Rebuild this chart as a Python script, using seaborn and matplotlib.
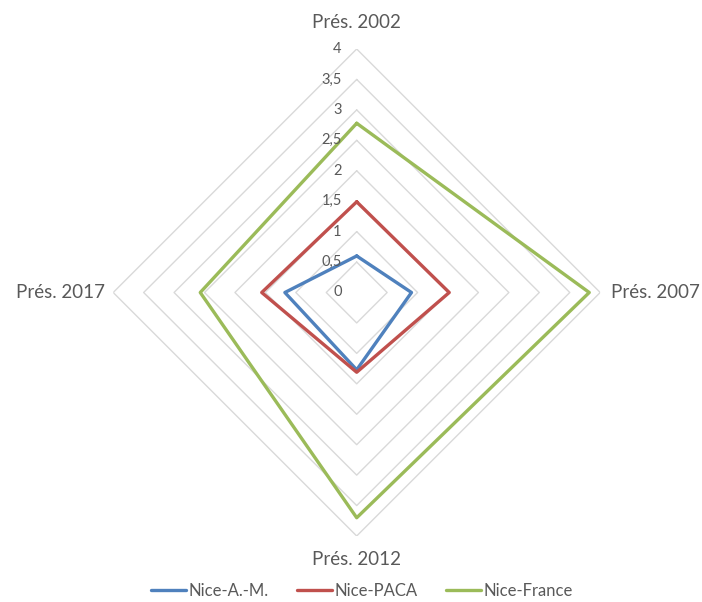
import numpy as np
import pandas as pd
import matplotlib
matplotlib.use("Agg")
import matplotlib.pyplot as plt
import seaborn as sns
from matplotlib.lines import Line2D

categories = ["Prés. 2002", "Prés. 2007", "Prés. 2012", "Prés. 2017"]
nice_am = [0.60, 0.90, 1.27, 1.18]
nice_paca = [1.49, 1.52, 1.31, 1.56]
nice_france = [2.78, 3.82, 3.70, 2.57]
series_names = ["Nice-A.-M.", "Nice-PACA", "Nice-France"]
tick_values = [0, 0.5, 1, 1.5, 2, 2.5, 3, 3.5, 4]
tick_labels = ["0", "0,5", "1", "1,5", "2", "2,5", "3", "3,5", "4"]
colors = ["#4F81BD", "#C0504D", "#9BBB59"]

sns.set_theme(style="white")
plt.rcParams["font.family"] = ["Lato", "DejaVu Sans"]

W, H = 702, 602
fig = plt.figure(figsize=(W / 100, H / 100), dpi=100)
cx, cy, R = 356.7, 292.5, 243.5
ax = fig.add_axes([(cx - R) / W, (H - cy - R) / H, 2 * R / W, 2 * R / H], projection="polar")
ax.set_theta_offset(np.pi / 2)
ax.set_theta_direction(-1)
ax.set_ylim(0, 4)
ax.grid(False)
ax.spines["polar"].set_visible(False)
ax.set_xticks([])
ax.set_yticks([])
ax.set_facecolor("none")

n = len(categories)
angles = np.arange(n) * 2 * np.pi / n
closed_angles = np.append(angles, angles[0])

# polygon grid
for v in tick_values[1:]:
    ax.plot(closed_angles, [v] * (n + 1), color="#D9D9D9", lw=1.0, zorder=1)

# radial tick labels (left of the top axis)
for v, lab in zip(tick_values, tick_labels):
    x_px = cx - 15
    y_px = cy - v * R / 4
    fig.text(x_px / W, 1 - y_px / H, lab, ha="right", va="center",
             fontsize=10.5, color="#595959")

# data
rows = []
for name, vals in zip(series_names, [nice_am, nice_paca, nice_france]):
    for i, (a, v) in enumerate(zip(list(closed_angles), vals + [vals[0]])):
        rows.append({"serie": name, "theta": a, "r": v, "order": i})
df = pd.DataFrame(rows)
sns.lineplot(data=df, x="theta", y="r", hue="serie", palette=colors,
             sort=False, estimator=None, units="serie", lw=2.4, ax=ax,
             legend=False, zorder=3)
ax.set_xlabel("")
ax.set_ylabel("")
ax.set_ylim(0, 4)
ax.set_xticks([])
ax.set_yticks([])

# category labels
lab_color = "#595959"
fs = 13.5
ax.text(angles[0], 4.43, categories[0], ha="center", va="center", fontsize=fs, color=lab_color, clip_on=False)
ax.text(angles[1], 4.18, categories[1], ha="left", va="center", fontsize=fs, color=lab_color, clip_on=False)
ax.text(angles[2], 4.39, categories[2], ha="center", va="center", fontsize=fs, color=lab_color, clip_on=False)
ax.text(angles[3], 4.14, categories[3], ha="right", va="center", fontsize=fs, color=lab_color, clip_on=False)

handles = [Line2D([0], [0], color=c, lw=2.4) for c in colors]
leg = fig.legend(handles, series_names, loc="lower center", bbox_to_anchor=(0.515, -0.02),
                 ncol=3, frameon=False, fontsize=12, handlelength=2.1,
                 handletextpad=0.15, columnspacing=1.7)
for t in leg.get_texts():
    t.set_color("#595959")

fig.savefig("out.png", dpi=100)
